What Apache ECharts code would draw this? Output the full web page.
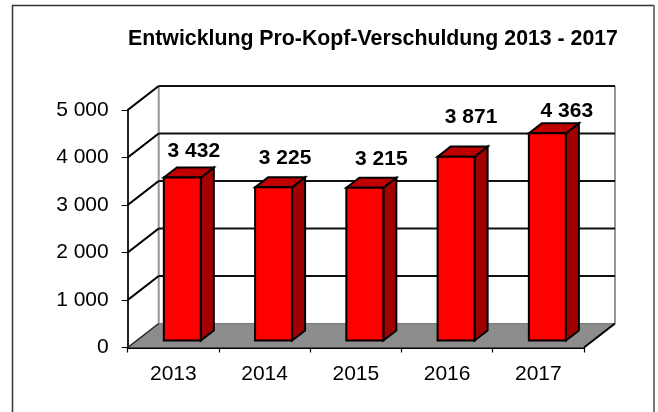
<!DOCTYPE html>
<html><head><meta charset="utf-8">
<style>html,body{margin:0;padding:0;background:#fff}#c{width:658px;height:412px}</style>
<script src="https://cdn.jsdelivr.net/npm/echarts@6/dist/echarts.min.js"></script>
</head><body><div id="c"></div>
<script>
const categories = ['2013','2014','2015','2016','2017'];
const values = [3432,3225,3215,3871,4363];
const yTicks = [0,1000,2000,3000,4000,5000];
const titleText = 'Entwicklung Pro-Kopf-Verschuldung 2013 - 2017';
// layout of the hand-placed labels: [shift x, lift above the bar's back top edge]
const labelShift = [[5,16],[5,19],[10,19],[8.5,29],[13,12]];

const FONT = '"Liberation Sans", Arial, sans-serif';
const DEPTH_X = 31, DEPTH_Y = 24;           // depth of the 3D box
const BAR_W = 37, BAR_NEAR = 0.29, BAR_FAR = 0.71; // bar depth range in floor fraction
const fmt = v => String(v).replace(/\B(?=(\d{3})+$)/g,' ');
const poly = (pts, fill, stroke, lw) => ({type:'polygon',shape:{points:pts},
  style:{fill:fill||'transparent',stroke:stroke||null,lineWidth:lw||0,lineJoin:'miter'},silent:true});
const line = (a,b,stroke,lw) => ({type:'line',shape:{x1:a[0],y1:a[1],x2:b[0],y2:b[1]},
  style:{stroke,lineWidth:lw},silent:true});

function frameItem(params, api){
  const cs = params.coordSys, v = api.value(0);
  const y = api.coord([0,v])[1], L = cs.x, R = cs.x+cs.width;
  const kids = [];
  if (v === 0) {
    kids.push(poly([[L,y],[R,y],[R+DEPTH_X,y-DEPTH_Y],[L+DEPTH_X,y-DEPTH_Y]],'#8c8c8c'));
    kids.push(line([L+DEPTH_X,y-DEPTH_Y],[L+DEPTH_X,cs.y-DEPTH_Y],'#969696',2));
    kids.push(line([R+DEPTH_X,y-DEPTH_Y],[R+DEPTH_X,cs.y-DEPTH_Y],'#969696',2));
    kids.push(line([L+DEPTH_X,y-DEPTH_Y],[R+DEPTH_X,y-DEPTH_Y],'#7a7a7a',1));
    kids.push(line([L,y],[L+DEPTH_X,y-DEPTH_Y],'#222',1.5));
    kids.push(line([R,y],[R+DEPTH_X,y-DEPTH_Y],'#000',2));
  } else {
    kids.push(line([L,y],[L+DEPTH_X,y-DEPTH_Y],'#000',2.2));
    kids.push(line([L+DEPTH_X,y-DEPTH_Y],[R+DEPTH_X,y-DEPTH_Y],'#111',2.2));
  }
  return {type:'group',children:kids};
}
function barItem(params, api){
  const i = api.value(0), val = api.value(1);
  const top = api.coord([i,val]), base = api.coord([i,0]);
  const nx = DEPTH_X*BAR_NEAR, ny = DEPTH_Y*BAR_NEAR;
  const dx = DEPTH_X*(BAR_FAR-BAR_NEAR), dy = DEPTH_Y*(BAR_FAR-BAR_NEAR);
  const x0 = top[0]+nx-BAR_W/2, x1 = x0+BAR_W, yT = top[1]-ny, yB = base[1]-ny;
  const s = labelShift[params.dataIndex];
  return {type:'group',children:[
    poly([[x1,yT],[x1+dx,yT-dy],[x1+dx,yB-dy],[x1,yB]],'#a00000','#000',2),
    poly([[x0,yT],[x0+dx,yT-dy],[x1+dx,yT-dy],[x1,yT]],'#c00000','#000',2),
    poly([[x0,yT],[x1,yT],[x1,yB],[x0,yB]],'#ff0000','#000',2),
    {type:'text',silent:true,style:{text:fmt(val),x:top[0]+nx+dx/2+s[0],y:yT-dy-s[1],
      align:'center',verticalAlign:'middle',font:'bold 21px '+FONT,fill:'#000'}}
  ]};
}
const chart = echarts.init(document.getElementById('c'),null,{renderer:'canvas'});
chart.setOption({
  animation:false,
  backgroundColor:'#fff',
  title:{text:titleText,left:368,top:24,textAlign:'center',
    textStyle:{fontFamily:FONT,fontSize:21.3,fontWeight:'bold',color:'#000'}},
  graphic:[
    {type:'line',z:-1,silent:true,shape:{x1:12.5,y1:5,x2:12.5,y2:412},style:{stroke:'#333',lineWidth:1.5}},
    {type:'line',z:-1,silent:true,shape:{x1:12,y1:5.5,x2:654,y2:5.5},style:{stroke:'#333',lineWidth:1.5}},
    {type:'line',z:-1,silent:true,shape:{x1:654,y1:5,x2:654,y2:412},style:{stroke:'#777',lineWidth:2}}
  ],
  grid:{left:127.7,right:74,top:110,bottom:64.5},
  xAxis:{type:'category',data:categories,
    axisLine:{onZero:false,lineStyle:{color:'#000',width:2.2}},
    axisTick:{show:true,length:5,alignWithLabel:false,lineStyle:{color:'#000',width:1.2}},
    axisLabel:{fontFamily:FONT,fontSize:21,color:'#000',margin:16},
    splitLine:{show:false}},
  yAxis:{type:'value',min:0,max:5000,interval:1000,
    axisLine:{show:true,lineStyle:{color:'#222',width:2}},
    axisTick:{show:true,length:6,lineStyle:{color:'#000',width:1}},
    axisLabel:{fontFamily:FONT,fontSize:21,color:'#000',margin:19,formatter:fmt},
    splitLine:{show:false}},
  series:[
    {type:'custom',name:'frame',coordinateSystem:'cartesian2d',clip:false,z:1,silent:true,
     data:yTicks.map(v=>[v]),encode:{y:0},renderItem:frameItem},
    {type:'custom',name:'Pro-Kopf-Verschuldung',coordinateSystem:'cartesian2d',clip:false,z:3,
     data:values.map((v,i)=>[i,v]),encode:{x:0,y:1},renderItem:barItem}
  ]
});
</script></body></html>
